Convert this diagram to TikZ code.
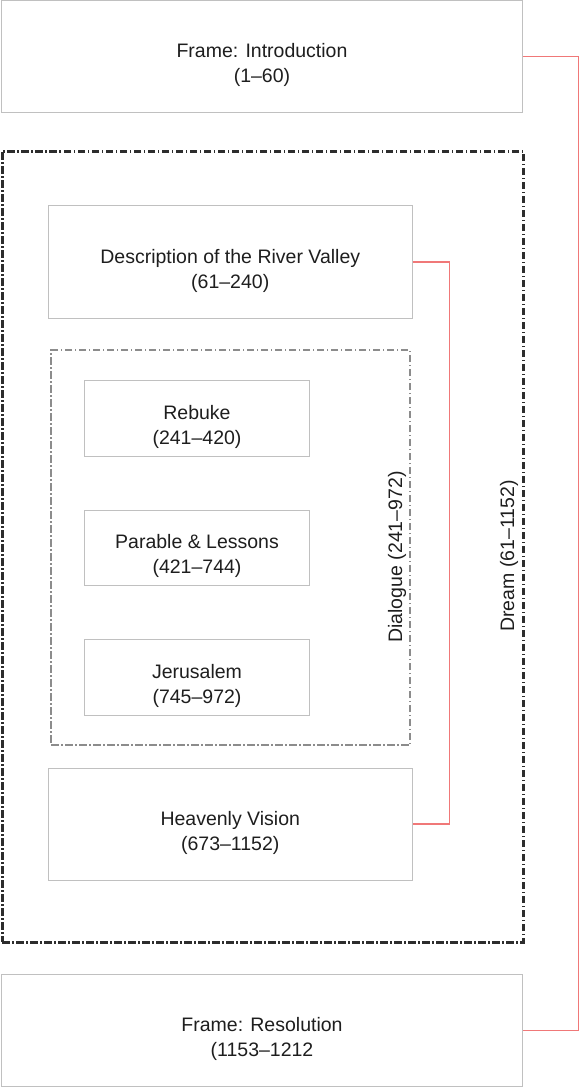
\documentclass[tikz,border=0pt]{standalone}
\usepackage{fontspec}
\setmainfont{Liberation Sans}
\definecolor{boxgray}{RGB}{192,192,192}
\definecolor{connred}{RGB}{240,120,120}
\definecolor{darkline}{RGB}{45,45,45}
\definecolor{midgray}{RGB}{140,140,140}
\definecolor{txtcol}{RGB}{30,30,30}
\begin{document}
\begin{tikzpicture}[x=1pt,y=-1pt,
  box/.style={draw=boxgray, line width=1pt, fill=white, inner sep=0pt},
  txt/.style={align=center, text=txtcol, font=\fontsize{19.5}{25}\selectfont, inner sep=0pt},
  lbl/.style={text=txtcol, font=\fontsize{19.5}{25}\selectfont, inner sep=0pt, rotate=90},
  conn/.style={draw=connred, line width=1.1pt},
  dreamframe/.style={draw=darkline, line width=3pt, dash pattern=on 7.5pt off 2.5pt on 1.5pt off 2.5pt, inner sep=0pt},
  dialframe/.style={draw=midgray, line width=2pt, dash pattern=on 7.5pt off 2.5pt on 1.5pt off 2.5pt, inner sep=0pt}
]
\useasboundingbox (0,0) rectangle (580,1088);

% frames
\node[dreamframe, minimum width=521pt, minimum height=791pt] (dream) at (262.5,546.5) {};
\node[dialframe, minimum width=359pt, minimum height=395pt] (dial) at (230.5,547.5) {};

% boxes
\node[box, minimum width=521pt, minimum height=112pt] (intro) at (262,56.5) {};
\node[box, minimum width=521pt, minimum height=112pt] (resol) at (262,1030.5) {};
\node[box, minimum width=363.5pt, minimum height=113pt] (desc) at (230.25,262) {};
\node[box, minimum width=363.5pt, minimum height=112pt] (heaven) at (230.25,824) {};
\node[box, minimum width=225pt, minimum height=76pt] (rebuke) at (197,418) {};
\node[box, minimum width=225pt, minimum height=75pt] (parable) at (197,547.5) {};
\node[box, minimum width=225pt, minimum height=76pt] (jerus) at (197,677) {};

% texts
\node[txt] (introt) at ([yshift=-8.5pt]intro.center) {Frame: Introduction\\(1–60)};
\node[txt] (resolt) at ([yshift=-8.5pt]resol.center) {Frame: Resolution\\(1153–1212};
\node[txt] (desct) at ([yshift=-8.5pt]desc.center) {Description of the River Valley\\(61–240)};
\node[txt] (heavent) at ([yshift=-8.5pt]heaven.center) {Heavenly Vision\\(673–1152)};
\node[txt] (rebuket) at ([yshift=-8.5pt]rebuke.center) {Rebuke\\(241–420)};
\node[txt] (parablet) at ([yshift=-8.5pt]parable.center) {Parable \& Lessons\\(421–744)};
\node[txt] (jerust) at ([yshift=-8.5pt]jerus.center) {Jerusalem\\(745–972)};

% rotated labels
\node[lbl] (diallbl) at (397,557) {Dialogue (241–972)};
\node[lbl] (dreamlbl) at (509,556) {Dream (61–1152)};

% connectors
\draw[conn] (intro.east) -- ++(55.5,0) |- (resol.east);
\draw[conn] (desc.east) -- ++(37,0) |- (heaven.east);
\end{tikzpicture}
\end{document}
